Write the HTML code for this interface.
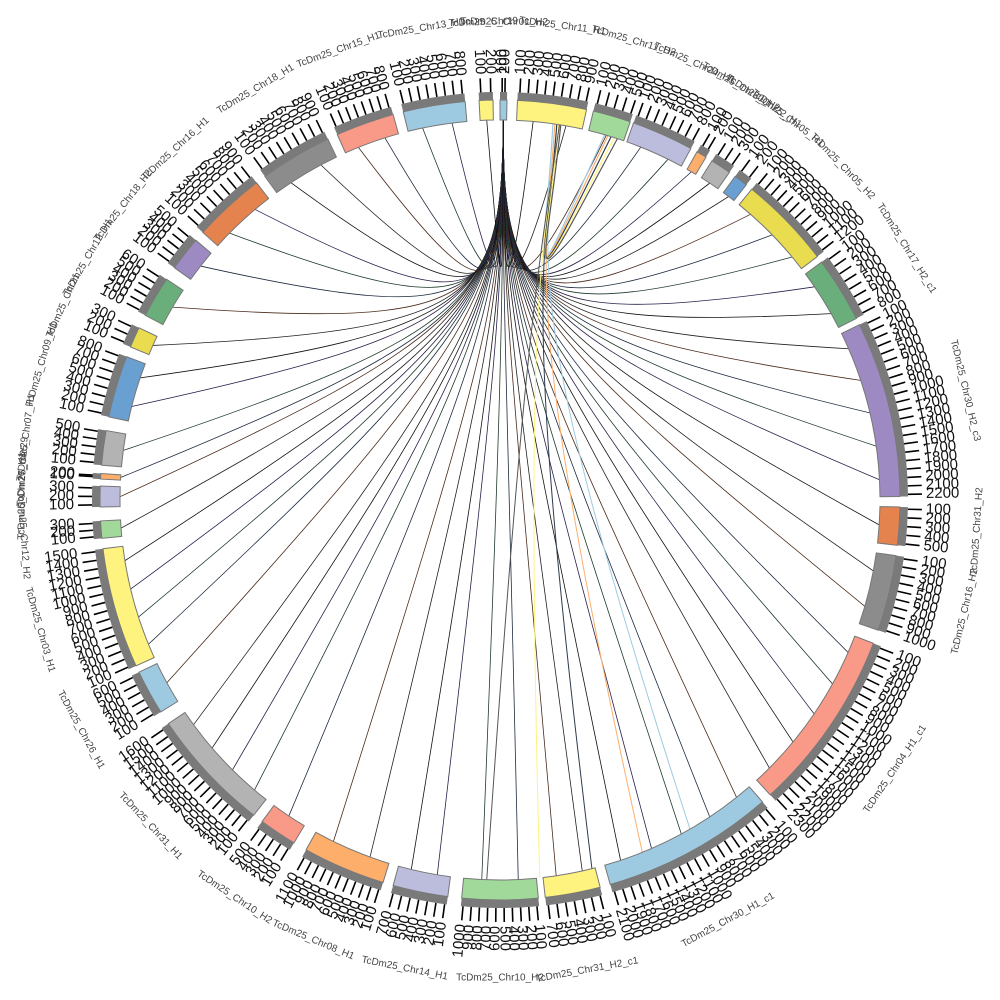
<!DOCTYPE html>
<html><head><meta charset="utf-8"><style>
html,body{margin:0;padding:0;background:#fff;width:1000px;height:1000px;overflow:hidden}
svg{display:block}
</style></head><body>
<svg id="s" width="1000" height="1000" viewBox="0 0 1000 1000" xmlns="http://www.w3.org/2000/svg"></svg>
<script>
var S=document.getElementById('s'),NS='http://www.w3.org/2000/svg',cx=500,cy=500;
function pt(a,r){var t=a*Math.PI/180;return [cx+r*Math.sin(t),cy-r*Math.cos(t)];}
function el(n,at,txt){var e=document.createElementNS(NS,n);for(var k in at)e.setAttribute(k,at[k]);if(txt!=null)e.textContent=txt;S.appendChild(e);return e;}
function arc(a0,a1,r0,r1){var p=pt(a0,r1),q=pt(a1,r1),u=pt(a1,r0),v=pt(a0,r0),l=(a1-a0>180)?1:0;
return 'M'+p+' A'+r1+','+r1+' 0 '+l+' 1 '+q+' L'+u+' A'+r0+','+r0+' 0 '+l+' 0 '+v+' Z';}
var segs=[[0,1,'#9ecae1','TcDm25_Chr01_H2'],[2.5,12.5,'#fff37f','TcDm25_Chr11_H1'],[13.5,19,'#a1d99b','TcDm25_Chr11_H2'],[19.5,28.5,'#bcbddc','TcDm25_Chr24_H1'],[29.5,31,'#fdae6b','TcDm25_Chr20_H2'],[32,35,'#b3b3b3','TcDm25_Chr22_H1'],[36,38,'#6a9fd2','TcDm25_Chr05_H1'],[39,52.5,'#e9dc4f','TcDm25_Chr05_H2'],[53.5,63,'#69ae7b','TcDm25_Chr17_H2_c1'],[64,89.5,'#9d8ac2','TcDm25_Chr30_H2_c3'],[91,96.5,'#e5834f','TcDm25_Chr31_H2'],[98,109,'#8c8c8c','TcDm25_Chr16_H2'],[111,137.5,'#f89a87','TcDm25_Chr04_H1_c1'],[139,164,'#9ecae1','TcDm25_Chr30_H1_c1'],[165.5,173.5,'#fff37f','TcDm25_Chr31_H2_c1'],[174.5,185.5,'#a1d99b','TcDm25_Chr10_H2'],[187.5,195.5,'#bcbddc','TcDm25_Chr14_H1'],[197,209,'#fdae6b','TcDm25_Chr08_H1'],[211,216.5,'#f89a87','TcDm25_Chr10_H2'],[218,236,'#b3b3b3','TcDm25_Chr31_H1'],[238,244.5,'#9ecae1','TcDm25_Chr26_H1'],[245.5,263,'#fff37f','TcDm25_Chr03_H1'],[264.5,267,'#a1d99b','TcDm25_Chr12_H2'],[269,272,'#bcbddc','TcDm25_Chr27_H1'],[273,273.8,'#fdae6b','TcDm25_Chr29'],[275,280,'#b3b3b3','TcDm25_Chr07_H1'],[282,291,'#6a9fd2','TcDm25_Chr09_H1'],[292.5,295.5,'#e9dc4f','TcDm25_Chr21'],[297.5,303.5,'#69ae7b','TcDm25_Chr12_H1'],[305.5,310.5,'#9d8ac2','TcDm25_Chr18_H2'],[312,322.5,'#e5834f','TcDm25_Chr16_H1'],[324,334.5,'#8c8c8c','TcDm25_Chr18_H1'],[336,344.5,'#f89a87','TcDm25_Chr15_H1'],[346,355,'#9ecae1','TcDm25_Chr13_H1'],[357,359,'#fff37f','TcDm25_Chr19']];
var lc=['#111','#222','#4a2a1a','#1d2b3f','#1e3a2a','#2b1f4a'];
var src=pt(0.5,380),i=0;
segs.forEach(function(s,k){
  if(k==0)return;
  var n=Math.max(1,Math.round((s[1]-s[0])/5));
  for(var j=0;j<n;j++){var a=s[0]+(s[1]-s[0])*(j+0.5)/n;var p=pt(a,380);
    var dx=(p[0]-500)*0.06;
    el('path',{d:'M'+src+' C502,300 '+(505+dx)+',330 '+p,fill:'none',stroke:lc[(i++)%lc.length],'stroke-width':0.8});}
});
var s2=pt(9,380);
['#9ecae1','#fdae6b','#2d3b4f','#fff37f','#555'].forEach(function(c,j){
  var p=pt(150+j*8,380);el('path',{d:'M'+s2+' C540,260 525,320 '+p,fill:'none',stroke:c,'stroke-width':1});
  var q=pt(16+j*0.5,380);el('path',{d:'M'+pt(8+j*0.3,380)+' C545,280 520,320 '+q,fill:'none',stroke:c,'stroke-width':1.2});
});
segs.forEach(function(s){
  el('path',{d:arc(s[0],s[1],380,400),fill:s[2],stroke:'#777','stroke-width':1});
  el('path',{d:arc(s[0],s[1],400,408),fill:'#7a7a7a',stroke:'none'});
  var span=s[1]-s[0],n=Math.max(1,Math.floor(span/1.2)),lab=100;
  for(var j=0;j<=n;j++){var a=s[0]+0.3+(span-0.6)*j/Math.max(n,1);
    var p=pt(a,408),q=pt(a,422);el('line',{x1:p[0],y1:p[1],x2:q[0],y2:q[1],stroke:'#000','stroke-width':1.6});
    var t=pt(a,426),rot,anc;
    if(a<180){rot=a-90;anc='start';}else{rot=a+90;anc='end';}
    el('text',{x:t[0],y:t[1],transform:'rotate('+rot+' '+t[0]+' '+t[1]+')','text-anchor':anc,'dominant-baseline':'middle','font-family':'Liberation Sans, sans-serif','font-size':15,fill:'#111'},String(lab*(j+1)));}
  var m=(s[0]+s[1])/2,t2=pt(m,478),r2=(m>90&&m<270)?m+180:m;
  el('text',{x:t2[0],y:t2[1],transform:'rotate('+r2+' '+t2[0]+' '+t2[1]+')','text-anchor':'middle','dominant-baseline':'middle','font-family':'Liberation Sans, sans-serif','font-size':10,fill:'#444'},s[3]);
});
</script>
</body></html>
